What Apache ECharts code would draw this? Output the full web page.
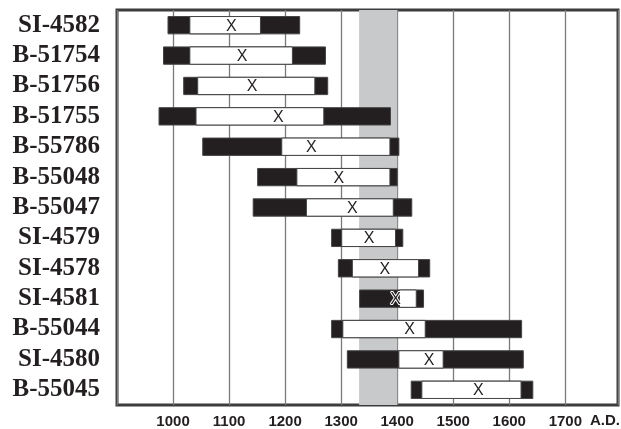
<!DOCTYPE html>
<html>
<head>
<meta charset="utf-8">
<script src="https://cdn.jsdelivr.net/npm/echarts@6/dist/echarts.min.js"></script>
<style>html,body{margin:0;padding:0;background:#fff}#c{width:621px;height:429px}</style>
</head>
<body>
<div id="c"></div>
<script>
const labels = ['SI-4582','B-51754','B-51756','B-51755','B-55786','B-55048','B-55047','SI-4579','SI-4578','SI-4581','B-55044','SI-4580','B-55045'];
const outerLo = [991, 983, 1019, 975, 1053, 1151, 1143, 1283, 1295, 1333, 1283, 1311, 1425];
const innerLo = [1030, 1030, 1044, 1041, 1194, 1221, 1238, 1301, 1320, 1404, 1303, 1403, 1444];
const median  = [1104, 1123, 1141, 1188, 1247, 1296, 1320, 1350, 1378, 1397, 1422, 1457, 1545];
const innerHi = [1156, 1213, 1253, 1269, 1387, 1387, 1393, 1397, 1438, 1434, 1450, 1482, 1621];
const outerHi = [1226, 1272, 1276, 1388, 1403, 1400, 1426, 1410, 1458, 1447, 1622, 1625, 1642];
const band = [1332, 1400];
const xTicks = [1000, 1100, 1200, 1300, 1400, 1500, 1600, 1700];

const data = labels.map((l, i) => [i, outerLo[i], innerLo[i], median[i], innerHi[i], outerHi[i]]);
const sansFont = '"Liberation Sans Narrow", "Arial Narrow", "Liberation Sans", Arial, sans-serif';

const chart = echarts.init(document.getElementById('c'));
chart.setOption({
  animation: false,
  grid: { left: 117, right: 2, top: 10, bottom: 24, show: true, borderColor: '#3c3c3c', borderWidth: 3, backgroundColor: 'transparent' },
  xAxis: {
    type: 'value', min: 900, max: 1794, interval: 100,
    axisLine: { show: false }, axisTick: { show: false },
    splitLine: { show: true, lineStyle: { color: '#7a7a7a', width: 1.3 } },
    axisLabel: {
      margin: 9,
      fontFamily: sansFont,
      fontWeight: 'bold', fontSize: 15, color: '#231f20',
      formatter: v => xTicks.indexOf(v) >= 0 ? String(v) : ''
    }
  },
  yAxis: {
    type: 'category', data: labels, inverse: true,
    axisLine: { show: false }, axisTick: { show: false }, splitLine: { show: false },
    axisLabel: { interval: 0, margin: 17, fontFamily: '"Liberation Serif", "Times New Roman", serif', fontWeight: 'bold', fontSize: 25, color: '#231f20' }
  },
  graphic: [{
    type: 'text', right: 1, top: 413,
    style: { text: 'A.D.', fontFamily: sansFont, fontWeight: 'bold', fontSize: 15, fill: '#231f20' }
  }],
  series: [
    {
      type: 'line', data: [], z: 1,
      markArea: { silent: true, itemStyle: { color: '#c8c9cb' }, data: [[{ xAxis: band[0] }, { xAxis: band[1] }]] }
    },
    {
      type: 'custom', z: 3, data: data,
      encode: { x: [1, 2, 3, 4, 5], y: 0 },
      renderItem: function (params, api) {
        const c = api.value(0);
        const p1 = api.coord([api.value(1), c]);
        const p2 = api.coord([api.value(2), c]);
        const pm = api.coord([api.value(3), c]);
        const p4 = api.coord([api.value(4), c]);
        const p5 = api.coord([api.value(5), c]);
        const h = api.size([0, 1])[1] * 0.57;
        const y = p1[1] - h / 2;
        return {
          type: 'group',
          children: [
            { type: 'rect', shape: { x: p1[0], y: y, width: p5[0] - p1[0], height: h }, style: { fill: '#231f20', stroke: '#444', lineWidth: 1 } },
            { type: 'rect', shape: { x: p2[0], y: y, width: p4[0] - p2[0], height: h }, style: { fill: '#ffffff', stroke: '#444', lineWidth: 1 } },
            { type: 'text', x: pm[0], y: pm[1] + 1, style: { text: 'X', fontFamily: sansFont, fontSize: 16, fill: '#231f20', stroke: '#ffffff', lineWidth: 2, align: 'center', verticalAlign: 'middle' } }
          ]
        };
      }
    }
  ]
});
</script>
</body>
</html>
